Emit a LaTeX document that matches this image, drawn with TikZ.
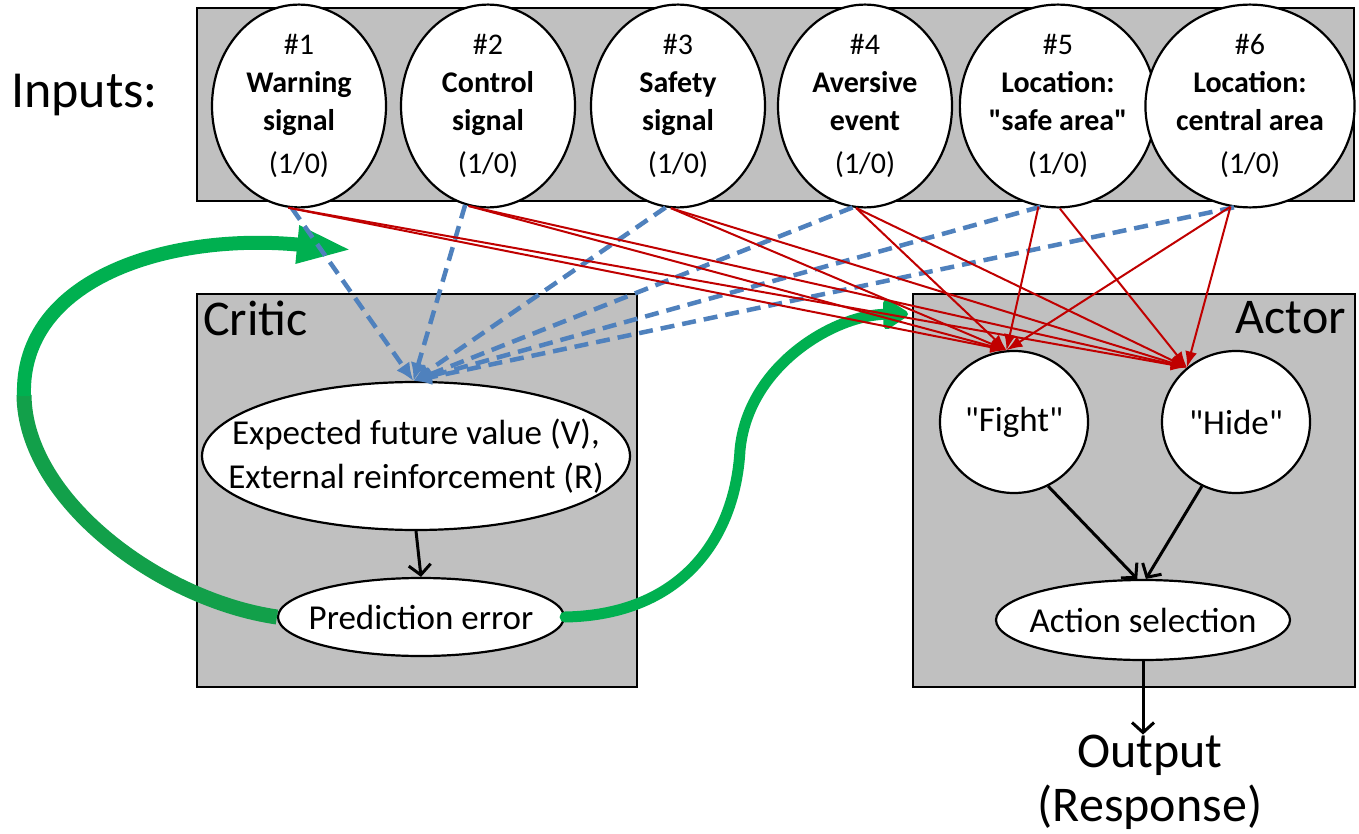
\documentclass[tikz,border=0pt]{standalone}
\usepackage{fontspec}
\setmainfont{Carlito}
\newfontfamily\qfont{Carlito}
\usetikzlibrary{arrows.meta,shapes.geometric}
\newcommand\myfs[2]{\fontsize{#1}{#2}\selectfont}
\newcommand\qq{{\qfont\symbol{34}}}
\definecolor{boxgray}{HTML}{C0C0C0}
\definecolor{redl}{HTML}{C00000}
\definecolor{bluel}{HTML}{4F81BD}
\definecolor{greenl}{HTML}{00B050}
\definecolor{greend}{HTML}{12A04A}
\begin{document}
\begin{tikzpicture}[x=1pt,y=-1pt,
  box/.style={draw=black,fill=boxgray,line width=2.5pt},
  inp/.style={ellipse,draw=black,fill=white,line width=2.2pt,minimum width=174pt,minimum height=168pt,inner sep=0pt,align=center,font=\myfs{30}{38}},
  oval/.style={ellipse,draw=black,fill=white,line width=2.2pt,inner sep=0pt},
  otext/.style={align=center,inner sep=0pt,font=\myfs{35}{44}},
  big/.style={font=\myfs{50}{54},inner sep=0pt,align=center},
  redarr/.style={draw=redl,line width=2pt,-{Latex[length=16pt,width=12pt]}},
  bluearr/.style={draw=bluel,line width=4.5pt,dash pattern=on 14pt off 8pt,-{Latex[length=18pt,width=16pt]}},
  blackarr/.style={draw=black,line width=3pt,-{Straight Barb[length=10pt,width=22pt,line width=3pt]}},
]
\useasboundingbox (0,0) rectangle (1359,834);
\fill[white] (0,0) rectangle (1359,834);

% boxes
\draw[box] (197,8) rectangle (1354,201);
\draw[box] (197,294) rectangle (637,687);
\draw[box] (913,294) rectangle (1355,687);

% labels
\node[big,anchor=base west] (inlab) at (11,108) {\fontsize{52}{56}\selectfont Inputs:};
\node[big,anchor=base west] (critlab) at (203,335) {Critic};
\node[big,anchor=base east] (actlab) at (1346,333) {Actor};
\node[big] (out) at (1150,782) {Output\\(Response)};

% input circles
\node[inp] (c1) at (299,106) {\#1\\\textbf{Warning}\\\textbf{signal}\\[5pt](1/0)};
\node[inp] (c2) at (488,106) {\#2\\\textbf{Control}\\\textbf{signal}\\[5pt](1/0)};
\node[inp] (c3) at (678,106) {\#3\\\textbf{Safety}\\\textbf{signal}\\[5pt](1/0)};
\node[inp] (c4) at (865,106) {\#4\\\textbf{Aversive}\\\textbf{event}\\[5pt](1/0)};
\node[inp] (c5) at (1058,106) {\#5\\\textbf{Location:}\\\textbf{\qq safe area\qq}\\[5pt](1/0)};
\node[inp] (c6) at (1250,106) {\#6\\\textbf{Location:}\\\textbf{central area}\\[5pt](1/0)};

% critic
\node[oval,minimum width=428pt,minimum height=148pt] (exp) at (416,456) {};
\node[otext] (expt) at (exp.center) {Expected future value (V),\\External reinforcement (R)};
\node[oval,minimum width=286pt,minimum height=78pt] (pred) at (421,617) {};
\node[otext] (predt) at (pred.center) {Prediction error};

% actor
\node[oval,minimum width=148pt,minimum height=142pt] (fight) at (1014,422) {};
\node[otext] (fightt) at (fight.center) {\qq Fight\qq};
\node[oval,minimum width=148pt,minimum height=142pt] (hide) at (1236,422) {};
\node[otext] (hidet) at (hide.center) {\qq Hide\qq};
\node[oval,minimum width=294pt,minimum height=80pt] (act) at (1143,620) {};
\node[otext] (actt) at (act.center) {Action selection};

% green arrows
\draw[greend,line width=15pt] (pred.west) .. controls (160,600) and (25,500) .. (24,395);
\draw[greenl,line width=14pt,-{Triangle[length=56pt,width=34pt]}] (24,396) .. controls (20,278) and (170,232) .. (353,250);
\draw[greenl,line width=11pt,line cap=round,-{Triangle[round,length=28pt,width=34pt]}] (pred.east) .. controls (680,615) and (735,540) .. (740,450) .. controls (748,365) and (835,315) .. (908,314);

% blue dashed
\draw[bluearr] (c1.266) -- (exp.92);
\draw[bluearr] (c2.257) -- (exp.92);
\draw[bluearr] (c3.263) -- (exp.92);
\draw[bluearr] (c4.263) -- (exp.92);
\draw[bluearr] (c5.260) -- (exp.92);
\draw[bluearr] (c6.261) -- (exp.92);

% red
\draw[redarr] (c1.264) -- (fight.96);
\draw[redarr] (c1.264) -- (hide.132);
\draw[redarr] (c2.259) -- (fight.96);
\draw[redarr] (c2.259) -- (hide.132);
\draw[redarr] (c3.266) -- (fight.96);
\draw[redarr] (c3.266) -- (hide.132);
\draw[redarr] (c4.265) -- (fight.96);
\draw[redarr] (c4.265) -- (hide.132);
\draw[redarr] (c5.259) -- (fight.96);
\draw[redarr] (c5.271) -- (hide.132);
\draw[redarr] (c6.259) -- (fight.96);
\draw[redarr] (c6.259) -- (hide.132);

% black
\draw[blackarr] (exp.south) -- (pred.north);
\draw[blackarr] (fight.-62) -- (act.98);
\draw[blackarr] (hide.-118) -- (act.86);
\draw[blackarr] (act.south) -- (act.south |- out.north);
\end{tikzpicture}
\end{document}
